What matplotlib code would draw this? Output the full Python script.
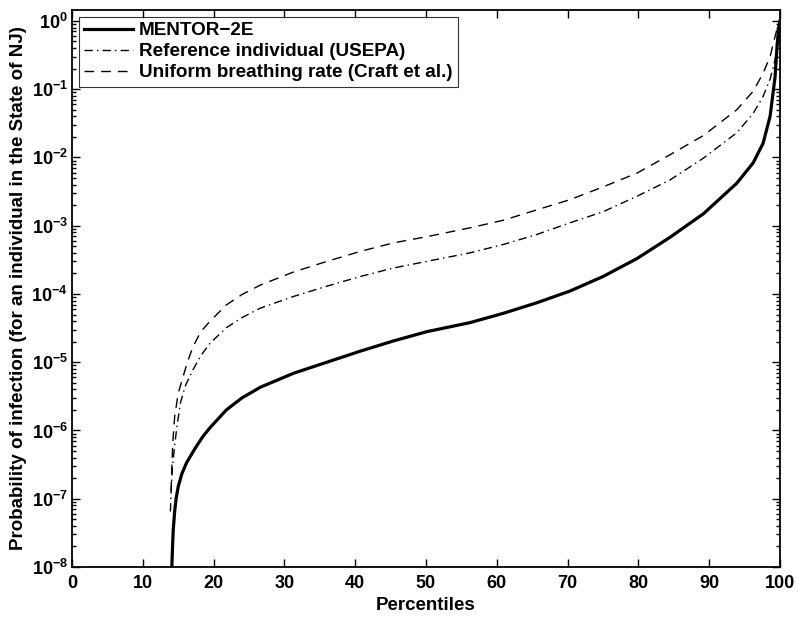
import numpy as np
import matplotlib
matplotlib.use("Agg")
import matplotlib.pyplot as plt
from matplotlib.ticker import LogLocator, NullFormatter, FixedLocator

plt.rcParams['font.family'] = ['Liberation Sans', 'DejaVu Sans']
plt.rcParams['font.weight'] = 'bold'

# ---------------------------------------------
# Data (percentile, probability)
# ---------------------------------------------
mentor_pct = [14.05, 14.1, 14.2, 14.3, 14.5, 14.7, 15.0, 15.5, 16.2, 17.4, 18.5, 19.5,
              21.8, 24.0, 26.6, 31.3, 36.0, 40.7, 45.4, 50.1, 56.2, 60.9, 65.6, 70.3,
              75.0, 79.8, 84.5, 89.2, 93.9, 96.2, 97.6, 98.6, 99.3, 99.6, 99.85, 100]
mentor_prob = [1e-9, 1e-8, 2e-8, 3.5e-8, 6.5e-8, 1e-7, 1.5e-7, 2.3e-7, 3.4e-7, 5.5e-7,
               8.2e-7, 1.1e-6, 2.0e-6, 3.0e-6, 4.3e-6, 6.9e-6, 1.0e-5, 1.45e-5,
               2.05e-5, 2.8e-5, 3.8e-5, 5.2e-5, 7.4e-5, 1.1e-4, 1.8e-4, 3.3e-4,
               6.8e-4, 1.5e-3, 4.2e-3, 8.3e-3, 1.6e-2, 4e-2, 0.15, 0.45, 0.85, 1.0]

usepa_pct = [13.9, 14.0, 14.2, 14.5, 14.8, 15.3, 16.0, 17.1, 18.2, 19.5, 21.8, 24.0,
             26.6, 31.3, 36.0, 40.7, 45.4, 50.1, 56.2, 60.9, 65.6, 70.3, 75.0, 79.8,
             84.5, 89.2, 93.9, 96.2, 97.6, 98.6, 99.3, 99.7, 100]
usepa_prob = [6.5e-8, 1.3e-7, 3e-7, 6e-7, 1.1e-6, 2.5e-6, 4.5e-6, 7.8e-6, 1.25e-5,
              1.9e-5, 3.2e-5, 4.5e-5, 6.2e-5, 9.2e-5, 1.3e-4, 1.8e-4, 2.4e-4, 3.0e-4,
              4.0e-4, 5.3e-4, 7.4e-4, 1.1e-3, 1.6e-3, 2.7e-3, 4.7e-3, 9.8e-3, 2.3e-2,
              4.4e-2, 7.8e-2, 0.14, 0.27, 0.45, 0.65]

craft_pct = [14.0, 14.1, 14.25, 14.5, 15.0, 15.7, 16.3, 17.1, 18.2, 19.5, 21.8, 24.0,
             26.6, 31.3, 36.0, 40.7, 45.4, 50.1, 56.2, 60.9, 65.6, 70.3, 75.0, 79.8,
             84.5, 89.2, 93.9, 96.2, 97.6, 98.6, 99.3, 99.7, 100]
craft_prob = [1.3e-7, 3e-7, 7e-7, 1.6e-6, 3.5e-6, 6.2e-6, 1e-5, 1.7e-5, 2.8e-5, 4e-5,
              6.9e-5, 9.8e-5, 1.35e-4, 2.1e-4, 3.0e-4, 4.2e-4, 5.6e-4, 6.9e-4, 9.3e-4,
              1.2e-3, 1.7e-3, 2.4e-3, 3.7e-3, 5.9e-3, 1.1e-2, 2.1e-2, 5e-2, 9.3e-2,
              0.17, 0.3, 0.59, 0.85, 1.0]

labels = ["MENTOR\u22122E", "Reference individual (USEPA)",
          "Uniform breathing rate (Craft et al.)"]
x_ticks = [0, 10, 20, 30, 40, 50, 60, 70, 80, 90, 100]
y_ticks = [1e-8, 1e-7, 1e-6, 1e-5, 1e-4, 1e-3, 1e-2, 1e-1, 1e0]

fig = plt.figure(figsize=(8, 6.19), dpi=100)
ax = fig.add_axes([0.09, 0.084, 0.885, 0.9])

ax.plot(mentor_pct, mentor_prob, color='black', lw=2.3, ls='-', label=labels[0])
ax.plot(usepa_pct, usepa_prob, color='black', lw=1.0, ls='-.', dashes=(6, 3, 1, 3),
        label=labels[1])
ax.plot(craft_pct, craft_prob, color='black', lw=1.0, ls='--', dashes=(7, 5),
        label=labels[2])

ax.set_yscale('log')
ax.set_xlim(0, 100)
ax.set_ylim(1e-8, 1.45)
ax.xaxis.set_major_locator(FixedLocator(x_ticks))
ax.yaxis.set_major_locator(FixedLocator(y_ticks))
ax.yaxis.set_minor_locator(LogLocator(base=10, subs=np.arange(2, 10), numticks=12))
ax.yaxis.set_minor_formatter(NullFormatter())

ax.tick_params(which='both', direction='in', top=True, right=True, labelsize=13,
               width=1.0)
ax.tick_params(which='major', length=6)
ax.tick_params(which='minor', length=3)
ax.tick_params(axis='x', which='major', pad=6)
ax.tick_params(axis='y', which='major', pad=3)
for lab in ax.get_xticklabels() + ax.get_yticklabels():
    lab.set_fontweight('bold')
for s in ax.spines.values():
    s.set_linewidth(1.3)

ax.set_xlabel("Percentiles", fontsize=13.5, fontweight='bold', labelpad=3)
ax.set_ylabel("Probability of infection (for an individual in the State of NJ)",
              fontsize=13.5, fontweight='bold', labelpad=3)

leg = ax.legend(loc='upper left', fontsize=13.6, frameon=True, fancybox=False,
                handlelength=2.6, borderaxespad=0.35, labelspacing=0.2,
                borderpad=0.3, handletextpad=0.3)
leg.get_frame().set_edgecolor('black')
leg.get_frame().set_linewidth(0.8)
for t in leg.get_texts():
    t.set_fontweight('bold')

fig.savefig("out.png", dpi=100)
